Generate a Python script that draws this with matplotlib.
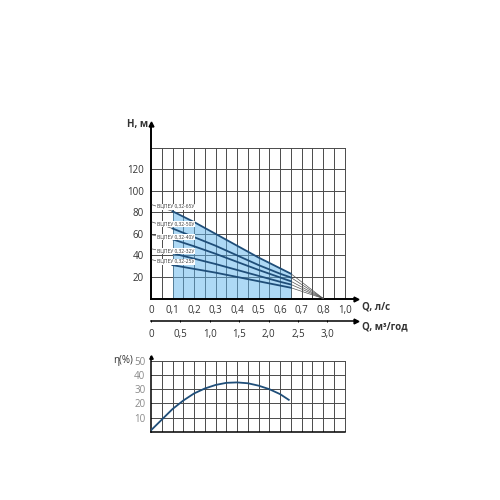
import numpy as np
import matplotlib.pyplot as plt

plt.rcParams['font.family'] = ['Open Sans', 'DejaVu Sans']

# --- данные ---
q = [0.1, 0.2, 0.3, 0.4, 0.5, 0.6, 0.65]          # Q, л/с
h_65 = [81, 71, 60, 49, 38, 28, 23]
h_50 = [65, 57, 49, 40, 31, 23, 19.5]
h_40 = [55, 48.5, 41.5, 34, 26.5, 19.5, 16]
h_32 = [42, 37, 32, 26.5, 21, 15.5, 13]
h_25 = [31, 27.5, 24, 20, 16, 12, 10]
nazivi = ['ВЦПЕУ 0,32-65У', 'ВЦПЕУ 0,32-50У', 'ВЦПЕУ 0,32-40У',
          'ВЦПЕУ 0,32-32У', 'ВЦПЕУ 0,32-25У']
h_natpis = [85, 69, 57, 44, 34]                     # высота подписей
q_nula = 0.8                                        # точка схода кривых

q_ticks = [0, 0.1, 0.2, 0.3, 0.4, 0.5, 0.6, 0.7, 0.8, 0.9]
q_labels = ['0', '0,1', '0,2', '0,3', '0,4', '0,5', '0,6', '0,7', '0,8', '1,0']
h_ticks = [20, 40, 60, 80, 100, 120]
m3_ticks = [0, 0.5, 1.0, 1.5, 2.0, 2.5, 3.0]
m3_labels = ['0', '0,5', '1,0', '1,5', '2,0', '2,5', '3,0']

q_eta = [0, 0.05, 0.1, 0.15, 0.2, 0.25, 0.3, 0.35, 0.4, 0.45, 0.5, 0.55, 0.6, 0.64]
eta = [1, 8.5, 16, 22, 27, 30.5, 33, 34.5, 34.8, 34.2, 32.5, 30, 26.5, 22.5]
eta_ticks = [10, 20, 30, 40, 50]

krive = [h_65, h_50, h_40, h_32, h_25]
plava = '#1f4e79'
siva = '#4a4a4a'
tekst = '#333333'

fig = plt.figure(figsize=(5, 5), dpi=100)

# --- основной график H(Q) ---
ax = fig.add_axes([0.302, 0.403, 0.409, 0.349])
ax.set_xlim(0, 0.95)
ax.set_ylim(0, 162)

for x in np.arange(0.05, 0.91, 0.05):
    ax.plot([x, x], [0, 140], color=siva, lw=0.7, zorder=1)
for y in range(20, 141, 20):
    ax.plot([0, 0.9], [y, y], color=siva, lw=0.7, zorder=1)

ax.fill_between(q, 0, h_65, color='#5fb4ec', alpha=0.5, lw=0, zorder=2)

for h, naziv, hn in zip(krive, nazivi, h_natpis):
    ax.plot([q[-1], q_nula], [h[-1], 0], color='#555555', lw=0.5, zorder=3)
    ax.plot([0.005, q[0]], [hn + 2, h[0]], color='#555555', lw=0.5, zorder=3)
    ax.plot(q, h, color=plava, lw=1.3, zorder=4)
    ax.text(0.115, hn, naziv, fontsize=3.5, color=tekst, ha='center', va='center',
            zorder=5, bbox=dict(facecolor='white', edgecolor='none', pad=0.5))

for s in ['top', 'right']:
    ax.spines[s].set_visible(False)
for s in ['left', 'bottom']:
    ax.spines[s].set_linewidth(1.4)
ax.plot(0, 1, '^k', ms=3.5, transform=ax.transAxes, clip_on=False)
ax.plot(1, 0, '>k', ms=3.5, transform=ax.transAxes, clip_on=False)

ax.set_xticks(q_ticks)
ax.set_xticklabels(q_labels)
ax.set_yticks(h_ticks)
ax.tick_params(length=0, labelsize=7, labelcolor=tekst, pad=5)
ax.text(-0.015, 1.0, 'H, м', transform=ax.transAxes, fontsize=7, fontweight='bold',
        color=tekst, ha='right', va='center')
ax.text(1.03, -0.05, 'Q, л/с', transform=ax.transAxes, fontsize=7, fontweight='bold',
        color=tekst, ha='left', va='center')

# --- вторая ось Q, м³/год ---
ax2 = fig.add_axes([0.302, 0.358, 0.409, 0.001])
ax2.set_xlim(0, 0.95)
ax2.set_yticks([])
for s in ['top', 'right', 'left']:
    ax2.spines[s].set_visible(False)
ax2.spines['bottom'].set_linewidth(1.1)
ax2.set_xticks([m / 3.66 for m in m3_ticks])
ax2.set_xticklabels(m3_labels)
ax2.tick_params(length=2, width=0.7, direction='inout', labelsize=7,
                labelcolor=tekst, pad=5)
ax2.plot(1, 0, '>k', ms=3.5, transform=ax2.transAxes, clip_on=False)
ax2.text(1.03, -11, 'Q, м³/год', transform=ax2.transAxes, fontsize=7,
         fontweight='bold', color=tekst, ha='left', va='center')

# --- КПД ---
ax3 = fig.add_axes([0.302, 0.1366, 0.409, 0.149])
ax3.set_xlim(0, 0.95)
ax3.set_ylim(0, 52.6)
for x in np.arange(0.05, 0.91, 0.05):
    ax3.plot([x, x], [0, 50], color=siva, lw=0.7, zorder=1)
for y in range(10, 51, 10):
    ax3.plot([0, 0.9], [y, y], color=siva, lw=0.7, zorder=1)
ax3.plot(q_eta, eta, color=plava, lw=1.3, zorder=3)
for s in ['top', 'right']:
    ax3.spines[s].set_visible(False)
ax3.spines['left'].set_linewidth(1.1)
ax3.spines['bottom'].set_linewidth(1.1)
ax3.spines['bottom'].set_bounds(0, 0.9)
ax3.plot(0, 1, '^k', ms=2.5, transform=ax3.transAxes, clip_on=False)
ax3.set_xticks([])
ax3.set_yticks(eta_ticks)
ax3.tick_params(length=0, labelsize=7, labelcolor='#8a8a8a', pad=4)
ax3.text(-0.09, 50, 'η(%)', transform=ax3.get_yaxis_transform(), fontsize=7,
         color=tekst, ha='right', va='center')

fig.savefig('out.png', dpi=100)
